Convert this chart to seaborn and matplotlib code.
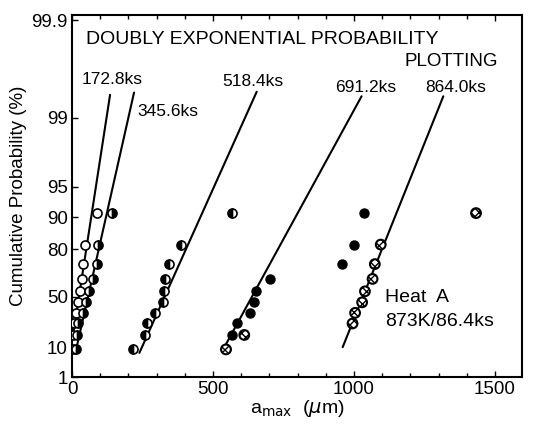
import numpy as np
import pandas as pd
import matplotlib
matplotlib.use("Agg")
import matplotlib.pyplot as plt
import seaborn as sns
from matplotlib.ticker import FixedLocator, NullLocator, MultipleLocator

# ---------------- data ----------------
prob = [9.1, 18.2, 27.3, 36.4, 45.5, 54.5, 63.6, 72.7, 81.8, 90.9]   # cumulative probability (%)

a_172 = [2, 4, 6, 14, 22, 29, 34, 40, 46, 88]
a_345 = [14, 17, 22, 38, 50, 61, 73, 88, 92, 142]
a_518 = [217, 259, 267, 294, 322, 326, 330, 345, 385, 566]
a_691 = [545, 566, 586, 633, 646, 651, 702, 957, 1000, 1035]
a_864 = [546, 611, 995, 1004, 1029, 1039, 1066, 1074, 1095, 1433]

# fitted lines: (a at low end, a at high end), (prob at low end, prob at high end)
line_names = ["172.8ks", "345.6ks", "518.4ks", "691.2ks", "864.0ks"]
line_a_lo = [5, 16, 239, 539, 960]
line_a_hi = [135, 220, 655, 1027, 1317]
line_p_lo = [20.0, 9.9, 7.4, 9.9, 10.3]
line_p_hi = [99.42, 99.45, 99.46, 99.40, 99.40]

yticks = [1, 10, 50, 80, 90, 95, 99, 99.9]
ytick_labels = ["1", "10", "50", "80", "90", "95", "99", "99.9"]
xticks = [0, 500, 1000, 1500]
xtick_labels = ["0", "500", "1000", "1500"]

# ---------------- style ----------------
sns.set_style("ticks")
plt.rcParams["font.family"] = ["Liberation Sans", "DejaVu Sans"]
for k in ["text.color", "axes.labelcolor", "xtick.color", "ytick.color", "axes.edgecolor"]:
    plt.rcParams[k] = "black"
narrow = ["Liberation Sans Narrow", "Liberation Sans", "DejaVu Sans"]

fig = plt.figure(figsize=(5.36, 4.30), dpi=100)
ax = fig.add_axes([72 / 536, 1 - 377 / 430, 450 / 536, 362 / 430])


def fwd(p):
    p = np.clip(np.asarray(p, dtype=float) / 100.0, 1e-12, 1 - 1e-12)
    return -np.log(-np.log(p))


def inv(v):
    return 100.0 * np.exp(-np.exp(-np.asarray(v, dtype=float)))


ax.set_yscale("function", functions=(fwd, inv))

# fitted lines
for name, x0, x1, p0, p1 in zip(line_names, line_a_lo, line_a_hi, line_p_lo, line_p_hi):
    d = pd.DataFrame({"a": [x0, x1], "p": [p0, p1]})
    sns.lineplot(data=d, x="a", y="p", ax=ax, color="black", lw=1.5,
                 estimator=None, sort=False, legend=False)

ms = 6.5
# 172.8 ks : open circles
sns.scatterplot(x=a_172, y=prob, ax=ax, marker="o", s=ms ** 2, facecolor="white",
                edgecolor="black", linewidth=1.2, zorder=5, legend=False)
# 345.6 ks : right-half filled
sns.lineplot(x=a_345, y=prob, ax=ax, marker="o", linestyle="", color="black",
             markersize=ms, fillstyle="right", markerfacecoloralt="white",
             markeredgecolor="black", markeredgewidth=1.2, estimator=None,
             sort=False, zorder=5, legend=False)
# 518.4 ks : left-half filled
sns.lineplot(x=a_518, y=prob, ax=ax, marker="o", linestyle="", color="black",
             markersize=ms, fillstyle="left", markerfacecoloralt="white",
             markeredgecolor="black", markeredgewidth=1.2, estimator=None,
             sort=False, zorder=5, legend=False)
# 691.2 ks : filled
sns.scatterplot(x=a_691, y=prob, ax=ax, marker="o", s=ms ** 2, color="black",
                edgecolor="black", linewidth=1.0, zorder=5, legend=False)
# 864.0 ks : hatched circles
plt.rcParams["hatch.linewidth"] = 1.0
sns.scatterplot(x=a_864, y=prob, ax=ax, marker="o", s=(ms + 0.5) ** 2, facecolor="white",
                edgecolor="black", linewidth=1.5, hatch="xxxx", zorder=6, legend=False)

# axes
ax.set_xlim(0, 1596)
ax.set_ylim(1.0, 99.912)
ax.yaxis.set_major_locator(FixedLocator(yticks))
ax.set_yticklabels(ytick_labels, family=narrow, fontsize=13.5)
ax.yaxis.set_minor_locator(NullLocator())
ax.set_xticks(xticks)
ax.set_xticklabels(xtick_labels, family=narrow, fontsize=13.5)
ax.xaxis.set_minor_locator(MultipleLocator(100))
ax.tick_params(axis="both", which="major", direction="in", length=4, width=1,
               top=True, right=False, pad=3, colors="black")
ax.tick_params(axis="x", which="minor", direction="in", length=3, width=1, top=True)
for s in ax.spines.values():
    s.set_visible(True)
    s.set_linewidth(1.5)
    s.set_color("black")

ax.set_ylabel("Cumulative Probability (%)", fontsize=13.5, labelpad=3)
ax.set_xlabel(r"a$_{\mathrm{max}}$  ($\mu$m)", fontsize=14, labelpad=0)

# texts
def ftext(x, y, s, **kw):
    fig.text(x / 536, 1 - y / 430, s, va="center", ha="left", color="black", **kw)

ftext(86, 40, "DOUBLY EXPONENTIAL PROBABILITY", fontsize=14, family=narrow)
ftext(405, 62, "PLOTTING", fontsize=13.5, family=narrow)
lbl_pos = [(82, 80), (137, 112), (222, 82), (335, 88), (425, 88)]
for name, (x, y) in zip(line_names, lbl_pos):
    ftext(x, y, name, fontsize=12.5, family=narrow)
ftext(385, 297, "Heat  A", fontsize=14)
ftext(385, 321, "873K/86.4ks", fontsize=14)

fig.savefig("out.png", dpi=100)
